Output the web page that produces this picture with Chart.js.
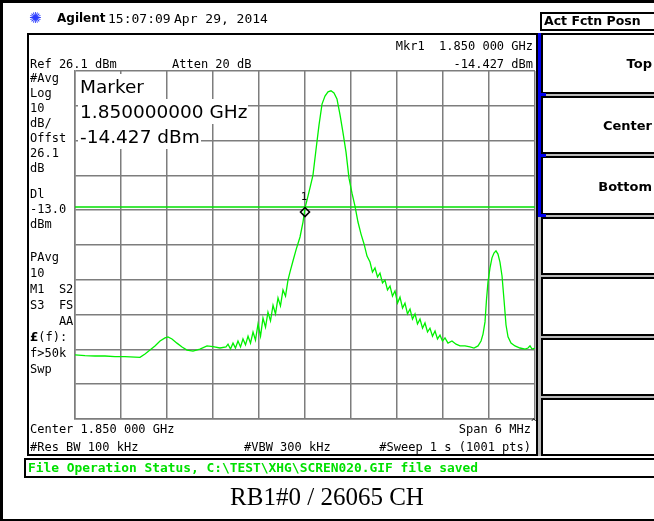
<!DOCTYPE html>
<html><head><meta charset="utf-8">
<script src="https://cdn.jsdelivr.net/npm/chart.js@4"></script>
<style>
html,body{margin:0;padding:0;background:#fff;}
#page{position:relative;width:654px;height:521px;overflow:hidden;background:#fff;color:#000;font-family:"DejaVu Sans Mono",monospace;}
.a{position:absolute;white-space:pre;}
.s{font-size:12px;line-height:14px;}
.r{text-align:right;}
.box{position:absolute;box-sizing:border-box;border:2px solid #000;}
.key{position:absolute;left:541px;width:118px;box-sizing:border-box;border:2px solid #000;background:#fff;}
.kl{position:absolute;right:5px;font-family:"DejaVu Sans",sans-serif;font-weight:bold;font-size:13px;line-height:16px;}
.mrow{position:absolute;left:78px;background:#fff;font-family:"DejaVu Sans",sans-serif;font-size:18.5px;line-height:25px;padding:0 1px 0 2px;white-space:pre;}
</style></head>
<body><div id="page">
<canvas id="c" width="654" height="521" style="position:absolute;left:0;top:0"></canvas>

<!-- header -->
<div class="a" style="left:29px;top:9px;font-family:'DejaVu Sans';font-size:15px;line-height:18px;color:#2a3cff;">✺</div>
<div class="a" style="left:57px;top:11px;font-family:'DejaVu Sans';font-weight:bold;font-size:12px;line-height:15px;">Agilent</div>
<div class="a" style="left:108px;top:11px;font-size:13px;line-height:15px;">15:07:09</div>
<div class="a" style="left:174px;top:11px;font-size:13px;line-height:15px;">Apr 29, 2014</div>

<!-- main frame -->
<div class="box" style="left:27px;top:33px;width:511px;height:423px;"></div>

<div class="a s r" style="right:121px;top:39px;">Mkr1  1.850 000 GHz</div>
<div class="a s" style="left:30px;top:57px;">Ref 26.1 dBm</div>
<div class="a s" style="left:172px;top:57px;">Atten 20 dB</div>
<div class="a s r" style="right:121px;top:57px;">-14.427 dBm</div>

<!-- left annotation column -->
<div class="a s" style="left:30px;top:71px;">#Avg</div>
<div class="a s" style="left:30px;top:86px;">Log</div>
<div class="a s" style="left:30px;top:101px;">10</div>
<div class="a s" style="left:30px;top:116px;">dB/</div>
<div class="a s" style="left:30px;top:131px;">Offst</div>
<div class="a s" style="left:30px;top:146px;">26.1</div>
<div class="a s" style="left:30px;top:161px;">dB</div>
<div class="a s" style="left:30px;top:187px;">Dl</div>
<div class="a s" style="left:30px;top:202px;">-13.0</div>
<div class="a s" style="left:30px;top:217px;">dBm</div>
<div class="a s" style="left:30px;top:250px;">PAvg</div>
<div class="a s" style="left:30px;top:266px;">10</div>
<div class="a s" style="left:30px;top:282px;">M1  S2</div>
<div class="a s" style="left:30px;top:298px;">S3  FS</div>
<div class="a s" style="left:30px;top:314px;">    AA</div>
<div class="a s" style="left:30px;top:330px;"><b style="font-family:'DejaVu Sans';">£</b>(f):</div>
<div class="a s" style="left:30px;top:346px;">f&gt;50k</div>
<div class="a s" style="left:30px;top:362px;">Swp</div>

<!-- marker readout box -->
<div class="mrow" style="top:74px;">Marker</div>
<div class="mrow" style="top:99px;">1.850000000 GHz</div>
<div class="mrow" style="top:124px;">-14.427 dBm</div>
<div id="mk1" class="a" style="font-family:'DejaVu Sans';font-size:10px;line-height:11px;left:301px;top:192px;">1</div>

<!-- bottom annotations -->
<div class="a s" style="left:30px;top:422px;">Center 1.850 000 GHz</div>
<div class="a s r" style="right:123px;top:422px;">Span 6 MHz</div>
<div class="a" style="left:531px;top:417px;font-size:9px;line-height:10px;">^</div>
<div class="a s" style="left:30px;top:440px;">#Res BW 100 kHz</div>
<div class="a s" style="left:244px;top:440px;">#VBW 300 kHz</div>
<div class="a s r" style="right:123px;top:440px;">#Sweep 1 s (1001 pts)</div>

<!-- softkey panel -->
<div class="box" style="left:540px;top:12px;width:130px;height:19px;"></div>
<div class="a" style="left:544px;top:13px;font-family:'DejaVu Sans';font-weight:bold;font-size:12.5px;line-height:16px;">Act Fctn Posn</div>
<div class="a" style="left:538px;top:33px;width:120px;height:423px;background:#b8b8b8;"></div>
<div class="key" style="top:33px;height:61px;"><div class="kl" style="top:21px;">Top</div></div>
<div class="key" style="top:96px;height:58px;"><div class="kl" style="top:20px;">Center</div></div>
<div class="key" style="top:156px;height:59px;"><div class="kl" style="top:21px;">Bottom</div></div>
<div class="key" style="top:217px;height:58px;"></div>
<div class="key" style="top:277px;height:59px;"></div>
<div class="key" style="top:338px;height:58px;"></div>
<div class="key" style="top:398px;height:58px;"></div>
<div class="a" style="left:538px;top:33px;width:3px;height:183px;background:#0000ee;"></div>
<div class="a" style="left:538px;top:93px;width:8px;height:3px;background:#0000ee;"></div>
<div class="a" style="left:538px;top:154px;width:8px;height:3px;background:#0000ee;"></div>
<div class="a" style="left:538px;top:214px;width:8px;height:3px;background:#0000ee;"></div>

<!-- status bar -->
<div class="box" style="left:24px;top:458px;width:640px;height:20px;"></div>
<div class="a" style="left:28px;top:461px;font-weight:bold;font-size:12.9px;line-height:14px;color:#00e000;">File Operation Status, C:\TEST\XHG\SCREN020.GIF file saved</div>

<!-- caption -->
<div class="a" style="left:0;width:654px;top:483px;text-align:center;font-family:'Liberation Serif',serif;font-size:25px;line-height:28px;">RB1#0 / 26065 CH</div>

<!-- outer border -->
<div class="a" style="left:0;top:0;width:654px;height:521px;box-sizing:border-box;border-left:3px solid #000;border-top:3px solid #000;border-bottom:2px solid #000;pointer-events:none;"></div>
</div>

<script>
const freqOffsetMHz = [
 -3.000,-2.870,-2.739,-2.609,-2.478,-2.348,-2.217,-2.152,-2.087,-2.022,
 -1.957,-1.891,-1.826,-1.787,-1.735,-1.670,-1.604,-1.539,-1.461,-1.370,
 -1.278,-1.200,-1.109,-1.030,
 -1.004,-0.972,-0.939,-0.907,-0.874,-0.841,-0.809,-0.776,-0.743,-0.711,
 -0.678,-0.646,-0.613,-0.580,-0.548,-0.515,-0.483,-0.450,-0.417,-0.385,
 -0.352,-0.320,-0.287,-0.254,-0.222,-0.196,
 -0.157,-0.117,-0.065,-0.026, 0.000,
  0.026, 0.065, 0.104, 0.143, 0.183, 0.222, 0.261, 0.300, 0.339, 0.378,
  0.417, 0.457, 0.496, 0.535, 0.574, 0.613, 0.652, 0.691, 0.730, 0.770,
  0.809,
  0.848, 0.880, 0.913, 0.946, 0.978, 1.011, 1.043, 1.076, 1.109, 1.141,
  1.174, 1.207, 1.239, 1.272, 1.304, 1.337, 1.370, 1.402, 1.435, 1.467,
  1.500, 1.533, 1.565, 1.598, 1.630, 1.663, 1.696, 1.728, 1.761, 1.793,
  1.826, 1.865, 1.917, 1.970,
  2.022, 2.087, 2.152, 2.204, 2.257,
  2.296, 2.322, 2.348, 2.367, 2.387, 2.413, 2.439, 2.465, 2.491, 2.517,
  2.543, 2.570, 2.596, 2.622, 2.648, 2.687, 2.739, 2.804, 2.870, 2.909,
  2.935, 2.961, 3.000
];
const levelDbm = [
 -55.5,-55.7,-55.8,-55.8,-56.0,-56.0,-56.1,-56.2,-55.2,-54.1,
 -52.9,-51.5,-50.6,-50.3,-50.9,-52.1,-53.2,-54.1,-54.4,-53.8,
 -52.9,-53.1,-53.5,-53.2,
 -52.4,-53.8,-52.1,-53.5,-51.5,-53.2,-50.9,-52.6,-50.1,-52.1,
 -48.9,-51.2,-46.6,-50.1,-44.9,-47.5,-43.2,-45.7,-41.2,-43.7,
 -39.1,-41.4,-36.8,-38.6,-34.0,-31.7,
 -28.5,-25.3,-21.6,-17.3,-13.2,
 -11.0, -7.5, -3.8,  3.4, 10.6, 16.6, 18.9, 20.1, 20.4, 19.8,
  18.1, 13.5,  8.3,  2.8, -4.7, -9.0,-12.7,-17.3,-20.7,-23.6,
 -27.1,
 -28.8,-31.7,-30.5,-33.1,-32.0,-34.8,-34.0,-36.8,-35.7,-38.6,
 -37.1,-40.6,-38.9,-42.0,-40.6,-43.7,-42.3,-45.2,-43.7,-46.6,
 -45.2,-47.8,-46.3,-48.9,-47.8,-50.1,-48.6,-50.9,-49.8,-51.5,
 -50.6,-52.1,-51.5,-52.4,
 -52.9,-52.9,-53.2,-53.5,-52.9,
 -51.5,-49.5,-46.0,-39.7,-34.5,-30.5,-27.6,-26.2,-25.6,-26.5,
 -28.8,-32.8,-39.7,-46.9,-50.3,-52.1,-52.9,-53.5,-53.8,-53.5,
 -52.9,-53.8,-53.5
];
// Display line (DL) and marker 1
const displayLineDbm = -13.0;
const displayLineSpanMHz = [-3, 3];
const markerOffsetMHz = [0];
const markerDbm = [-14.427];
// Graticule divisions: 10 dB/div from Ref 26.1 dBm, 0.6 MHz/div over 6 MHz span
const xTicks = [-3,-2.4,-1.8,-1.2,-0.6,0,0.6,1.2,1.8,2.4,3];
const yTicks = [26.1,16.1,6.1,-3.9,-13.9,-23.9,-33.9,-43.9,-53.9,-63.9,-73.9];

const gridColor = '#7d7d7d';
const labelPlugin = {
  id:'mk1label',
  afterDraw(chart){
    const px = chart.scales.x.getPixelForValue(markerOffsetMHz[0]);
    const py = chart.scales.y.getPixelForValue(markerDbm[0]);
    const el = document.getElementById('mk1');
    el.style.left = (px - 4) + 'px';
    el.style.top = (py - 21) + 'px';
  }
};
new Chart(document.getElementById('c'), {
  type:'line',
  data:{datasets:[
    {label:'Marker 1', data: markerOffsetMHz.map((f,i)=>({x:f,y:markerDbm[i]})), showLine:false,
     pointStyle:'rectRot', pointRadius:4.5, pointBorderColor:'#000', pointBackgroundColor:'rgba(0,0,0,0)', pointBorderWidth:1.6, order:1},
    {label:'Trace', data: freqOffsetMHz.map((f,i)=>({x:f,y:levelDbm[i]})), borderColor:'#00f000',
     borderWidth:1.3, pointRadius:0, tension:0, order:2},
    {label:'Display line', data: displayLineSpanMHz.map(f=>({x:f,y:displayLineDbm})), borderColor:'#00e000',
     borderWidth:1.6, pointRadius:0, order:3}
  ]},
  options:{
    responsive:false, animation:false, devicePixelRatio:1,
    layout:{padding:{left:75,top:71,right:119,bottom:102}},
    plugins:{legend:{display:false}, tooltip:{enabled:false}},
    scales:{
      x:{type:'linear', min:-3, max:3,
         afterBuildTicks:s=>{s.ticks = xTicks.map(v=>({value:v}));},
         afterFit:s=>{s.height=0;},
         ticks:{display:false}, grid:{color:gridColor, lineWidth:1.5, drawTicks:false},
         border:{display:true, color:gridColor, width:1.5}},
      y:{type:'linear', min:-73.9, max:26.1,
         afterBuildTicks:s=>{s.ticks = yTicks.map(v=>({value:v}));},
         afterFit:s=>{s.width=0;},
         ticks:{display:false}, grid:{color:gridColor, lineWidth:1.5, drawTicks:false},
         border:{display:true, color:gridColor, width:1.5}}
    }
  },
  plugins:[labelPlugin]
});
</script>
</body></html>
